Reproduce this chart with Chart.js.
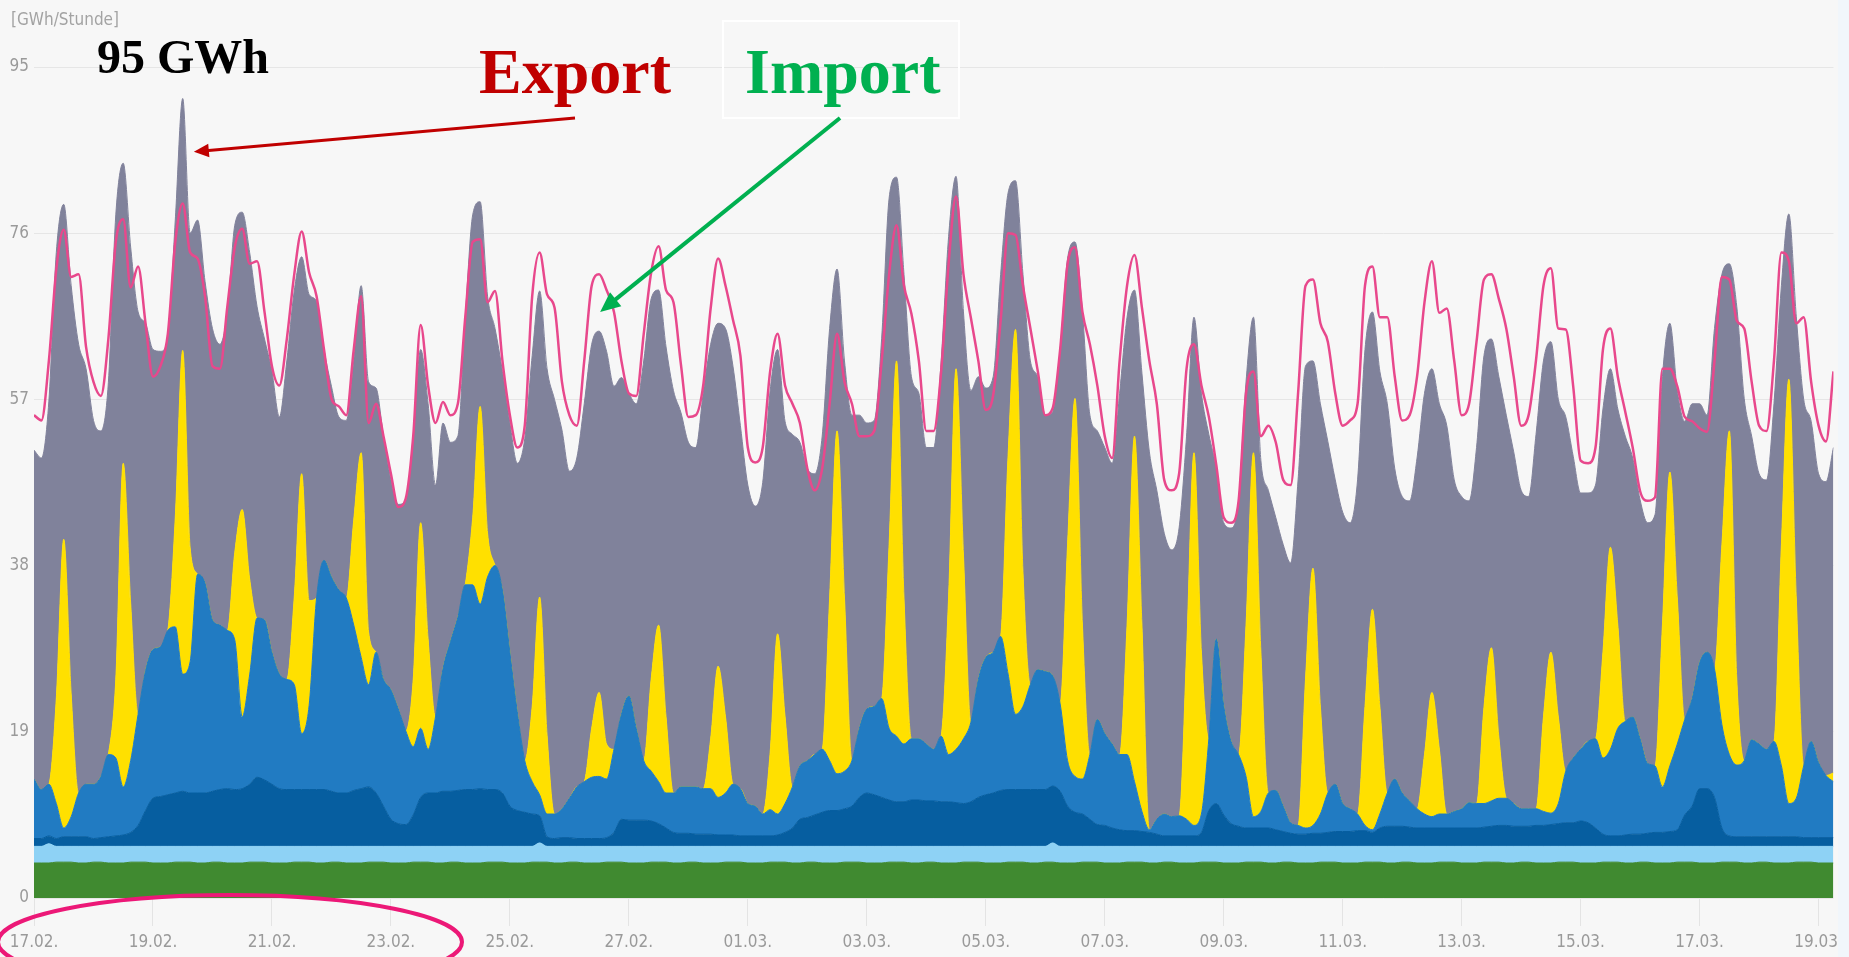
<!DOCTYPE html>
<html>
<head>
<meta charset="utf-8">
<script src="https://cdn.jsdelivr.net/npm/chart.js@4.4.1/dist/chart.umd.min.js"></script>
<style>
  html, body { margin: 0; padding: 0; background: #f7f7f7; }
  #wrap { width: 1849px; height: 957px; position: relative; }
</style>
</head>
<body>
<div id="wrap"><canvas id="energyChart"></canvas></div>
<script>
// hours since 17.02. 00:00, one value every 3 hours (last point 19.03. 06:00)
const hoursSinceStart = Array.from({ length: 243 }, (_, i) => i * 3);

const dateTicks = ['17.02.', '19.02.', '21.02.', '23.02.', '25.02.', '27.02.', '01.03.', '03.03.',
                   '05.03.', '07.03.', '09.03.', '11.03.', '13.03.', '15.03.', '17.03.', '19.03.'];

// GWh per hour, one row per day (00,03,06,09,12,15,18,21 h)
const biomass = [
  4.0,4.0,4.0,4.1,4.1,4.1,4.0,4.0, 4.1,4.1,4.0,4.0,4.0,4.1,4.1,4.1, 4.0,4.0,4.0,4.1,4.1,4.1,4.0,4.0,
  4.1,4.1,4.0,4.0,4.0,4.1,4.1,4.1, 4.0,4.0,4.0,4.1,4.1,4.1,4.0,4.0, 4.1,4.1,4.0,4.0,4.0,4.1,4.1,4.1,
  4.0,4.0,4.0,4.1,4.1,4.1,4.0,4.0, 4.1,4.1,4.0,4.0,4.0,4.1,4.1,4.1, 4.0,4.0,4.0,4.1,4.1,4.1,4.0,4.0,
  4.1,4.1,4.0,4.0,4.0,4.1,4.1,4.1, 4.0,4.0,4.0,4.1,4.1,4.1,4.0,4.0, 4.1,4.1,4.0,4.0,4.0,4.1,4.1,4.1,
  4.0,4.0,4.0,4.1,4.1,4.1,4.0,4.0, 4.1,4.1,4.0,4.0,4.0,4.1,4.1,4.1, 4.0,4.0,4.0,4.1,4.1,4.1,4.0,4.0,
  4.1,4.1,4.0,4.0,4.0,4.1,4.1,4.1, 4.0,4.0,4.0,4.1,4.1,4.1,4.0,4.0, 4.1,4.1,4.0,4.0,4.0,4.1,4.1,4.1,
  4.0,4.0,4.0,4.1,4.1,4.1,4.0,4.0, 4.1,4.1,4.0,4.0,4.0,4.1,4.1,4.1, 4.0,4.0,4.0,4.1,4.1,4.1,4.0,4.0,
  4.1,4.1,4.0,4.0,4.0,4.1,4.1,4.1, 4.0,4.0,4.0,4.1,4.1,4.1,4.0,4.0, 4.1,4.1,4.0,4.0,4.0,4.1,4.1,4.1,
  4.0,4.0,4.0,4.1,4.1,4.1,4.0,4.0, 4.1,4.1,4.0,4.0,4.0,4.1,4.1,4.1, 4.0,4.0,4.0,4.1,4.1,4.1,4.0,4.0,
  4.1,4.1,4.0,4.0,4.0,4.1,4.1,4.1, 4.0,4.0,4.0,4.1,4.1,4.1,4.0,4.0, 4.1,4.1,4.0,4.0,4.0,4.1,4.1,4.1,
  4.0,4.0,4.0
];

const hydro = [
  1.9,1.9,2.2,1.8,1.8,1.8,1.9,1.9, 1.8,1.8,1.9,1.9,1.9,1.8,1.8,1.8, 1.9,1.9,1.9,1.8,1.8,1.8,1.9,1.9,
  1.8,1.8,1.9,1.9,1.9,1.8,1.8,1.8, 1.9,1.9,1.9,1.8,1.8,1.8,1.9,1.9, 1.8,1.8,1.9,1.9,1.9,1.8,1.8,1.8,
  1.9,1.9,1.9,1.8,1.8,1.8,1.9,1.9, 1.8,1.8,1.9,1.9,1.9,1.8,1.8,1.8, 1.9,1.9,1.9,1.8,2.2,1.8,1.9,1.9,
  1.8,1.8,1.9,1.9,1.9,1.8,1.8,1.8, 1.9,1.9,1.9,1.8,1.8,1.8,1.9,1.9, 1.8,1.8,1.9,1.9,1.9,1.8,1.8,1.8,
  1.9,1.9,1.9,1.8,1.8,1.8,1.9,1.9, 1.8,1.8,1.9,1.9,1.9,1.8,1.8,1.8, 1.9,1.9,1.9,1.8,1.8,1.8,1.9,1.9,
  1.8,1.8,1.9,1.9,1.9,1.8,1.8,1.8, 1.9,1.9,1.9,1.8,1.8,1.8,1.9,1.9, 1.8,2.2,1.9,1.9,1.9,1.8,1.8,1.8,
  1.9,1.9,1.9,1.8,1.8,1.8,1.9,1.9, 1.8,1.8,1.9,1.9,1.9,1.8,1.8,1.8, 1.9,1.9,1.9,1.8,1.8,1.8,1.9,1.9,
  1.8,1.8,1.9,1.9,1.9,1.8,1.8,1.8, 1.9,1.9,1.9,1.8,1.8,1.8,1.9,1.9, 1.8,1.8,1.9,1.9,1.9,1.8,1.8,1.8,
  1.9,1.9,1.9,1.8,1.8,1.8,1.9,1.9, 1.8,1.8,1.9,1.9,1.9,1.8,1.8,1.8, 1.9,1.9,1.9,1.8,1.8,1.8,1.9,1.9,
  1.8,1.8,1.9,1.9,1.9,1.8,1.8,1.8, 1.9,1.9,1.9,1.8,1.8,1.8,1.9,1.9, 1.8,1.8,1.9,1.9,1.9,1.8,1.8,1.8,
  1.9,1.9,1.9
];

const windOffshore = [
  0.9,0.9,0.9,0.9,1.1,1.1,1.1,1.1,
  0.9,1.0,1.1,1.2,1.3,1.6,2.4,4.1,
  5.5,5.7,5.9,6.1,6.3,6.1,6.1,6.1,
  6.3,6.5,6.6,6.5,6.6,7.1,7.9,7.6,
  7.1,6.6,6.5,6.5,6.5,6.5,6.5,6.5,
  6.3,6.1,6.1,6.4,6.6,6.8,6.1,4.6,
  3.1,2.6,2.5,3.6,5.6,6.1,6.1,6.3,
  6.3,6.4,6.5,6.5,6.6,6.5,6.5,6.1,
  4.6,4.1,3.9,3.7,3.1,1.1,0.9,1.0,
  1.0,0.9,0.9,0.9,0.9,1.0,1.6,3.1,
  3.0,3.0,3.0,2.9,2.6,2.1,1.6,1.5,
  1.5,1.4,1.4,1.4,1.3,1.3,1.3,1.2,
  1.2,1.2,1.2,1.2,1.3,1.6,2.1,3.1,
  3.3,3.6,3.9,4.1,4.1,4.3,4.6,5.6,
  6.1,5.9,5.6,5.3,5.1,5.1,5.3,5.3,
  5.2,5.2,5.1,5.1,5.0,4.9,5.1,5.6,
  5.9,6.1,6.4,6.5,6.5,6.5,6.5,6.5,
  6.5,6.5,6.3,4.6,3.9,3.7,3.1,2.5,
  2.4,2.1,1.9,1.8,1.8,1.7,1.6,1.4,
  1.2,1.2,1.2,1.2,1.2,1.6,4.1,4.9,
  3.6,2.6,2.3,2.1,2.1,2.1,2.1,1.9,
  1.7,1.5,1.4,1.4,1.5,1.5,1.6,1.7,
  1.7,1.7,1.8,1.8,1.6,2.1,2.3,2.3,
  2.3,2.2,2.1,2.1,2.1,2.1,2.1,2.1,
  2.1,2.1,2.1,2.2,2.3,2.4,2.4,2.3,
  2.3,2.3,2.4,2.4,2.5,2.6,2.7,2.7,
  2.9,2.7,2.1,1.4,1.2,1.2,1.3,1.4,
  1.4,1.5,1.6,1.6,1.7,1.9,3.6,4.6,
  6.6,6.6,5.6,2.1,1.2,1.1,1.1,1.1,
  1.1,1.1,1.1,1.1,1.1,1.1,1.0,1.0,
  1.0,1.0,1.0
];

const windOnshore = [
  6.8,5.6,5.9,4.0,1.0,2.3,5.0,6.0,
  6.2,7.0,9.4,8.9,5.5,8.2,12.7,16.0,
  17.0,17.1,18.8,19.0,13.4,15.0,25.0,24.0,
  19.6,18.8,18.1,17.1,8.2,12.5,18.2,18.3,
  15.1,13.1,12.6,12.0,6.4,9.6,21.9,26.2,
  24.5,23.2,22.3,18.9,15.0,11.7,16.1,14.5,
  14.8,13.1,10.7,7.8,7.9,5.0,8.7,14.0,
  17.1,19.8,23.4,23.4,21.1,24.3,25.6,23.2,
  17.6,11.3,5.9,3.7,2.4,2.6,2.8,3.3,
  4.5,5.9,6.5,7.0,7.1,6.7,9.5,12.0,
  14.2,10.5,6.8,5.7,4.8,4.0,4.5,5.3,
  5.3,5.4,5.2,5.2,4.3,4.8,5.8,5.4,
  3.7,3.4,2.5,3.0,2.4,3.3,4.7,6.1,
  6.5,6.9,7.2,5.7,4.2,4.3,5.2,7.9,
  9.6,10.1,11.3,8.2,7.5,6.6,7.0,7.0,
  6.5,5.9,7.5,5.4,6.1,7.4,9.1,13.5,
  15.7,16.1,17.6,13.2,8.6,9.5,12.0,13.7,
  13.5,12.6,10.0,5.2,4.1,4.0,7.4,12.0,
  10.5,9.6,8.6,8.7,5.6,2.3,0.3,1.7,
  2.5,2.2,2.3,1.9,1.2,2.1,8.2,18.8,
  12.5,9.4,8.2,5.9,1.3,1.9,4.0,4.5,
  2.9,1.2,1.0,0.7,0.9,2.2,4.5,5.4,
  3.2,2.6,1.9,0.6,0.3,1.6,3.8,5.4,
  3.8,3.0,2.2,1.6,1.3,1.6,1.6,1.9,
  2.2,2.9,2.8,2.7,2.9,3.1,3.1,2.6,
  2.0,2.0,1.9,1.6,1.3,2.3,5.9,7.4,
  8.2,9.3,10.2,8.7,9.9,12.3,13.0,13.4,
  10.9,8.0,7.6,5.2,7.5,9.8,10.9,12.3,
  14.4,15.6,14.7,11.8,9.3,8.2,8.7,11.1,
  10.6,10.0,10.9,8.1,3.8,4.4,8.2,11.0,
  8.6,7.1,6.4
];

const solar = [
  0,0,0,12,33,14,0,0,
  0,0,0,9,37,18,0,0,
  0,0,0,12.5,37,13,0,0,
  0,0,0,10,23.7,11,0,0,
  0,0,0,10,29.7,12,0,0,
  0,0,0,12,23.4,6,0,0,
  0,0,0,7.7,23.5,12.6,0,0,
  0,0,0,7.7,22.6,5,0,0,
  0,0,0,8.6,22.6,9,0,0,
  0,0,0,5.6,9.6,4,0,0,
  0,0,0,10.5,17.9,8.7,0,0,
  0,0,0,5.7,15,8.7,0,0,
  0,0,0,6.5,20.6,10,0,0,
  0,0,0,18.6,39.2,19.8,0,0,
  0,0,0,21,42.9,16.7,0,0,
  0,0,0,18,43.5,21,0,0,
  0,0,0,25,44,15.4,0,0,
  0,0,0,24.7,43.2,17.6,0,0,
  0,0,0,14.8,39.5,21.3,0,0,
  0,0,0,19,42.6,18.5,0,0,
  0,0,0,17.3,41.6,18.2,0,0,
  0,0,0,17,29.4,12.3,0,0,
  0,0,0,13.6,25.2,12.3,0,0,
  0,0,0,6.8,14.2,7.4,0,0,
  0,0,0,11,17.5,7,0,0,
  0,0,0,10.8,18.4,9.9,0,0,
  0,0,0,12.1,23.1,11.8,0,0,
  0,0,0,18.5,33.6,16.7,0,0,
  0,0,0,20.6,37,9.8,0,0,
  0,0,0,25.3,48.5,22.9,0,0,
  0,0,1
];

const conventional = [
  37.6,37.9,43.8,51.0,38.3,46.7,51.3,47.5,
  41.6,39.5,42.5,53.1,34.3,40.7,46.0,39.7,
  34.3,33.8,33.4,34.0,28.8,36.0,40.5,34.5,
  33.3,32.1,36.4,37.4,34.0,37.3,35.6,32.1,
  32.1,29.4,36.4,35.0,24.8,35.0,33.9,24.1,
  21.8,19.8,20.3,18.2,19.1,28.6,30.2,27.8,
  24.0,23.4,26.3,27.8,19.8,26.9,26.5,28.1,
  22.8,20.7,30.6,34.6,23.4,27.1,27.1,25.0,
  26.2,28.4,36.8,40.1,35.0,41.9,47.4,43.3,
  37.4,37.6,43.2,43.9,41.3,44.9,41.5,38.5,
  34.6,37.1,45.7,43.5,38.3,42.3,46.0,42.8,
  39.4,38.8,45.2,45.1,39.2,44.4,47.8,41.5,
  36.4,34.3,37.9,41.4,32.5,33.7,40.3,37.0,
  33.4,32.1,35.8,30.8,18.5,27.1,39.5,35.8,
  32.7,32.7,41.2,39.6,21.0,37.0,41.4,39.5,
  33.9,34.5,42.9,41.2,22.0,27.8,37.9,34.6,
  30.8,31.5,41.4,30.0,17.0,34.0,37.0,33.5,
  29.3,30.2,40.5,32.7,17.9,35.8,38.8,33.0,
  32.7,32.1,41.3,35.2,16.7,28.8,43.2,37.6,
  32.1,30.5,32.9,24.8,15.5,29.6,34.8,19.5,
  20.9,24.4,29.0,27.8,15.5,21.9,34.6,31.2,
  29.9,29.7,39.5,35.8,23.7,34.6,40.2,34.8,
  33.3,32.7,38.2,40.8,34.0,38.3,44.5,35.5,
  33.9,34.3,40.1,41.3,37.0,39.5,44.4,37.9,
  35.7,34.5,40.7,40.2,35.3,41.2,43.8,40.2,
  36.4,35.7,42.8,40.7,35.5,36.3,40.5,34.5,
  29.3,28.4,29.0,27.8,20.4,24.7,32.6,29.6,
  27.3,27.5,28.7,28.4,17.0,23.7,34.1,33.7,
  29.6,27.1,38.9,30.9,19.1,42.6,41.4,34.7,
  30.9,30.8,38.6,29.6,18.9,32.2,41.9,36.6,
  33.0,33.6,37.2
];

const consumption = [
  55.2,54.6,61.4,71.9,76.4,71.0,71.3,63.0,
  59.0,57.4,63.9,75.0,77.6,69.8,72.2,65.7,
  59.6,60.8,64.5,75.0,79.4,73.8,73.1,68.8,
  60.8,60.5,67.6,74.4,76.5,72.5,72.8,67.0,
  60.8,58.6,63.9,71.3,76.2,71.5,68.8,62.7,
  57.1,56.2,55.2,62.7,68.8,54.3,56.5,52.8,
  48.5,44.7,45.7,52.8,65.5,58.6,54.3,56.7,
  55.2,56.5,66.4,75.0,75.3,68.1,69.4,61.4,
  55.2,51.5,54.0,68.8,73.8,69.0,67.5,59.0,
  55.2,54.0,61.4,70.0,71.3,69.5,67.0,61.4,
  57.7,57.4,64.5,71.5,74.5,69.5,68.1,61.0,
  55.0,55.2,58.6,67.4,73.1,70.0,66.1,62.0,
  51.5,49.8,51.5,60.2,64.5,58.6,56.5,54.3,
  49.1,46.6,49.1,56.5,64.5,59.0,56.5,52.8,
  52.8,53.4,61.4,71.3,76.9,70.0,66.8,61.4,
  53.4,53.4,60.2,72.5,80.2,71.3,66.3,61.4,
  55.8,57.5,66.0,76.0,75.8,70.0,65.1,60.2,
  55.2,56.0,62.7,72.5,74.4,67.0,63.3,58.6,
  52.8,50.3,61.4,70.0,73.5,67.5,61.4,56.5,
  47.8,46.6,48.5,60.5,63.3,58.6,55.0,49.5,
  43.5,42.9,45.4,57.7,60.2,52.8,54.0,52.1,
  47.8,47.2,57.7,70.0,70.7,65.7,63.6,57.7,
  54.0,54.6,56.5,70.0,72.2,66.4,66.4,59.6,
  54.6,55.2,59.6,68.1,72.8,66.9,67.4,61.4,
  55.2,56.5,63.6,70.7,71.3,68.5,65.1,59.6,
  54.0,55.2,61.5,70.0,72.0,65.1,65.0,58.5,
  50.0,49.7,51.5,62.7,65.1,59.6,55.6,51.5,
  46.5,45.4,45.8,60.5,60.5,58.5,55.0,54.5,
  53.7,53.3,61.4,71.0,70.7,66.0,65.1,59.0,
  54.0,53.4,61.4,73.8,72.8,65.7,66.4,59.0,
  54.0,52.2,60.2
];

const tickFont = { family: '"Liberation Sans Narrow", "DejaVu Sans Condensed", "Roboto", sans-serif', size: 17 };

function area(label, data, color, fill) {
  return {
    label, data, fill,
    backgroundColor: color, borderColor: color, borderWidth: 1,
    pointRadius: 0, cubicInterpolationMode: 'monotone', stack: 'gen'
  };
}

function arrow(c, x1, y1, x2, y2, color, width) {
  const a = Math.atan2(y2 - y1, x2 - x1);
  const head = width * 5;
  c.strokeStyle = color;
  c.fillStyle = color;
  c.lineWidth = width;
  c.beginPath();
  c.moveTo(x1, y1);
  c.lineTo(x2 - Math.cos(a) * head * 0.8, y2 - Math.sin(a) * head * 0.8);
  c.stroke();
  c.beginPath();
  c.moveTo(x2, y2);
  c.lineTo(x2 - head * Math.cos(a) + head * 0.45 * Math.sin(a), y2 - head * Math.sin(a) - head * 0.45 * Math.cos(a));
  c.lineTo(x2 - head * Math.cos(a) - head * 0.45 * Math.sin(a), y2 - head * Math.sin(a) + head * 0.45 * Math.cos(a));
  c.closePath();
  c.fill();
}

const overlay = {
  id: 'overlay',
  beforeDraw(chart) {
    const c = chart.ctx;
    c.save();
    c.fillStyle = '#f7f7f7';
    c.fillRect(0, 0, chart.width, chart.height);
    c.restore();
  },
  afterDraw(chart) {
    const c = chart.ctx;
    const xs = chart.scales.x, ys = chart.scales.y;
    c.save();
    c.fillStyle = '#f1f6fb';
    c.fillRect(1838, 0, chart.width - 1838, chart.height);

    c.fillStyle = '#a3a3a3';
    c.font = '17px ' + tickFont.family;
    c.textBaseline = 'middle';
    c.fillText('[GWh/Stunde]', 11, 21);

    c.textBaseline = 'alphabetic';
    c.fillStyle = '#000000';
    c.font = 'bold 48px "Liberation Serif", "Times New Roman", serif';
    c.fillText('95 GWh', 97, 73);

    c.font = 'bold 64px "Liberation Serif", "Times New Roman", serif';
    c.fillStyle = '#c00000';
    c.fillText('Export', 479, 93);
    c.fillStyle = '#00b050';
    c.fillText('Import', 745, 93);
    c.strokeStyle = '#ffffff';
    c.lineWidth = 2;
    c.strokeRect(723, 21, 236, 97);

    arrow(c, 575, 118, xs.getPixelForValue(64.5), ys.getPixelForValue(85.3), '#c00000', 3);
    arrow(c, 840, 118, xs.getPixelForValue(228.4), ys.getPixelForValue(67), '#00b050', 4);

    c.strokeStyle = '#ec1877';
    c.lineWidth = 4;
    c.beginPath();
    c.ellipse(230, 942, 232, 47, 0, 0, Math.PI * 2);
    c.stroke();
    c.restore();
  }
};

new Chart(document.getElementById('energyChart'), {
  type: 'line',
  data: {
    labels: hoursSinceStart,
    datasets: [
      area('Biomasse', biomass, '#408a30', 'origin'),
      area('Wasserkraft', hydro, '#8ed2f5', '-1'),
      area('Wind Offshore', windOffshore, '#065ea0', '-1'),
      area('Wind Onshore', windOnshore, '#217bc2', '-1'),
      area('Solar', solar, '#ffe000', '-1'),
      area('Konventionelle Kraftwerke', conventional, '#80829b', '-1'),
      {
        label: 'Stromverbrauch', data: consumption, stack: 'load', order: -1,
        fill: false, borderColor: '#e8488c', borderWidth: 2.5,
        pointRadius: 0, cubicInterpolationMode: 'monotone'
      }
    ]
  },
  options: {
    responsive: true,
    maintainAspectRatio: false,
    animation: false,
    layout: { padding: { top: 67, right: 13, bottom: 0, left: 0 } },
    plugins: { legend: { display: false }, tooltip: { enabled: false } },
    scales: {
      x: {
        type: 'linear', min: 0, max: 726,
        afterFit(scale) { scale.height = 59; },
        border: { display: false },
        grid: { drawOnChartArea: false, drawTicks: true, tickLength: 28, color: '#e4e4e4' },
        ticks: {
          stepSize: 48, includeBounds: false, autoSkip: false, maxRotation: 0,
          color: '#9a9a9a', font: tickFont, padding: 6,
          callback: (v) => dateTicks[v / 48]
        }
      },
      y: {
        stacked: true, min: 0, max: 95,
        afterFit(scale) { scale.width = 34; },
        border: { display: false },
        grid: { color: '#e6e6e6', drawTicks: false },
        ticks: { stepSize: 19, color: '#9a9a9a', font: tickFont, padding: 5 }
      }
    }
  },
  plugins: [overlay]
});
</script>
</body>
</html>
